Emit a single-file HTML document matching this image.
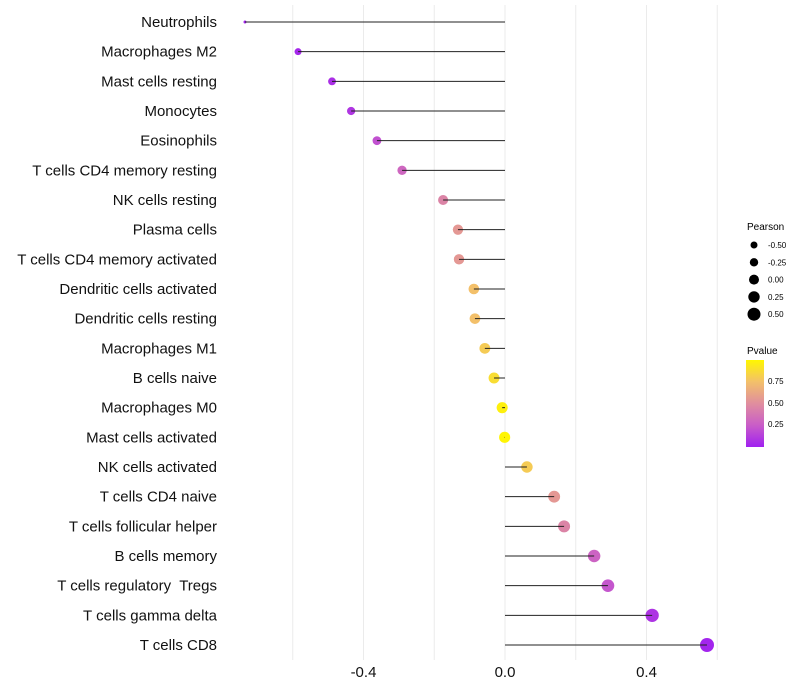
<!DOCTYPE html>
<html><head><meta charset="utf-8"><style>
body{margin:0;background:#fff;}
svg{font-family:"Liberation Sans",sans-serif;display:block}
text{white-space:pre}
</style></head><body>
<svg id="chart" width="800" height="700" viewBox="0 0 800 700">
<defs><linearGradient id="pg" x1="0" y1="1" x2="0" y2="0">
<stop offset="0" stop-color="#A020F0"/><stop offset="0.25" stop-color="#C95DC8"/><stop offset="0.5" stop-color="#E08E9E"/><stop offset="0.75" stop-color="#F3C06A"/><stop offset="1" stop-color="#FFF700"/></linearGradient></defs>
<g id="grid"></g>
<g id="marks"></g>
<g id="labels"></g>
<g id="xaxis"></g>
<g id="sleg">
<text x="747" y="230" font-size="10">Pearson</text>
</g>
<g>
<text x="747" y="354" font-size="10">Pvalue</text>
<rect x="746" y="360" width="18" height="87" fill="url(#pg)"/>
<text x="768" y="384" font-size="8">0.75</text>
<text x="768" y="406" font-size="8">0.50</text>
<text x="768" y="427" font-size="8">0.25</text>
</g>
</svg>
<script>
const categories=["Neutrophils","Macrophages M2","Mast cells resting","Monocytes","Eosinophils","T cells CD4 memory resting","NK cells resting","Plasma cells","T cells CD4 memory activated","Dendritic cells activated","Dendritic cells resting","Macrophages M1","B cells naive","Macrophages M0","Mast cells activated","NK cells activated","T cells CD4 naive","T cells follicular helper","B cells memory","T cells regulatory  Tregs","T cells gamma delta","T cells CD8"];
const pearson=[-0.735,-0.585,-0.489,-0.435,-0.362,-0.291,-0.175,-0.133,-0.130,-0.088,-0.085,-0.057,-0.031,-0.008,-0.001,0.062,0.139,0.167,0.252,0.291,0.416,0.571];
const pvalue=[0.01,0.03,0.06,0.09,0.2,0.3,0.45,0.55,0.55,0.75,0.75,0.8,0.88,0.97,0.99,0.8,0.55,0.45,0.28,0.22,0.08,0.02];
const xTicks=[-0.4,0.0,0.4];
const xTickLabels=["-0.4","0.0","0.4"];
const gridVals=[-0.6,-0.4,-0.2,0,0.2,0.4,0.6];
const sizeLegend=[-0.5,-0.25,0,0.25,0.5];
const sizeLegendLabels=["-0.50","-0.25","0.00","0.25","0.50"];

const NS="http://www.w3.org/2000/svg";
const x=v=>505+v*353.75;
const n=categories.length;
const y=i=>22+i*(645-22)/(n-1);
function r(v){
  if(v<-0.585){const t=(v+0.735)/0.15;return Math.sqrt(2.25+Math.max(0,t)*10);}
  return Math.sqrt(12.25+31.8*(v+0.585));
}
const stops=[[0,[160,32,240]],[0.25,[201,93,200]],[0.5,[224,142,158]],[0.75,[243,192,106]],[1,[255,247,0]]];
function col(p){for(let k=1;k<stops.length;k++){if(p<=stops[k][0]){const a=stops[k-1],b=stops[k],t=(p-a[0])/(b[0]-a[0]);return "rgb("+a[1].map((c,j)=>Math.round(c+(b[1][j]-c)*t)).join(",")+")";}}return "rgb(255,247,0)";}
function mk(tag,attrs,parent){const e=document.createElementNS(NS,tag);for(const k in attrs)e.setAttribute(k,attrs[k]);document.getElementById(parent).appendChild(e);return e;}
gridVals.forEach(v=>{const e=mk("line",{x1:x(v),x2:x(v),y1:5,y2:660,stroke:"#ebebeb","stroke-width":1},"grid");

});
categories.forEach((c,i)=>{
const d=mk("circle",{cx:x(pearson[i]),cy:y(i),r:r(pearson[i]),fill:col(pvalue[i])},"marks");


const l=mk("line",{x1:x(0),x2:x(pearson[i]),y1:y(i),y2:y(i),stroke:"#222","stroke-width":1},"marks");


const t=mk("text",{x:217,y:y(i)+5,"text-anchor":"end","font-size":15,fill:"#111"},"labels");
t.textContent=c;


});
xTicks.forEach((v,i)=>{const t=mk("text",{x:x(v),y:677,"text-anchor":"middle","font-size":15,fill:"#111"},"xaxis");
t.textContent=xTickLabels[i];

});
const sr=[3.5,4.2,5,5.7,6.5];
sizeLegend.forEach((v,i)=>{const yy=245+i*17.3;
const c=mk("circle",{cx:754,cy:yy,r:sr[i],fill:"#000"},"sleg");


const t=mk("text",{x:768,y:yy+3,"font-size":8},"sleg");
t.textContent=sizeLegendLabels[i];

});
</script>
</body></html>
